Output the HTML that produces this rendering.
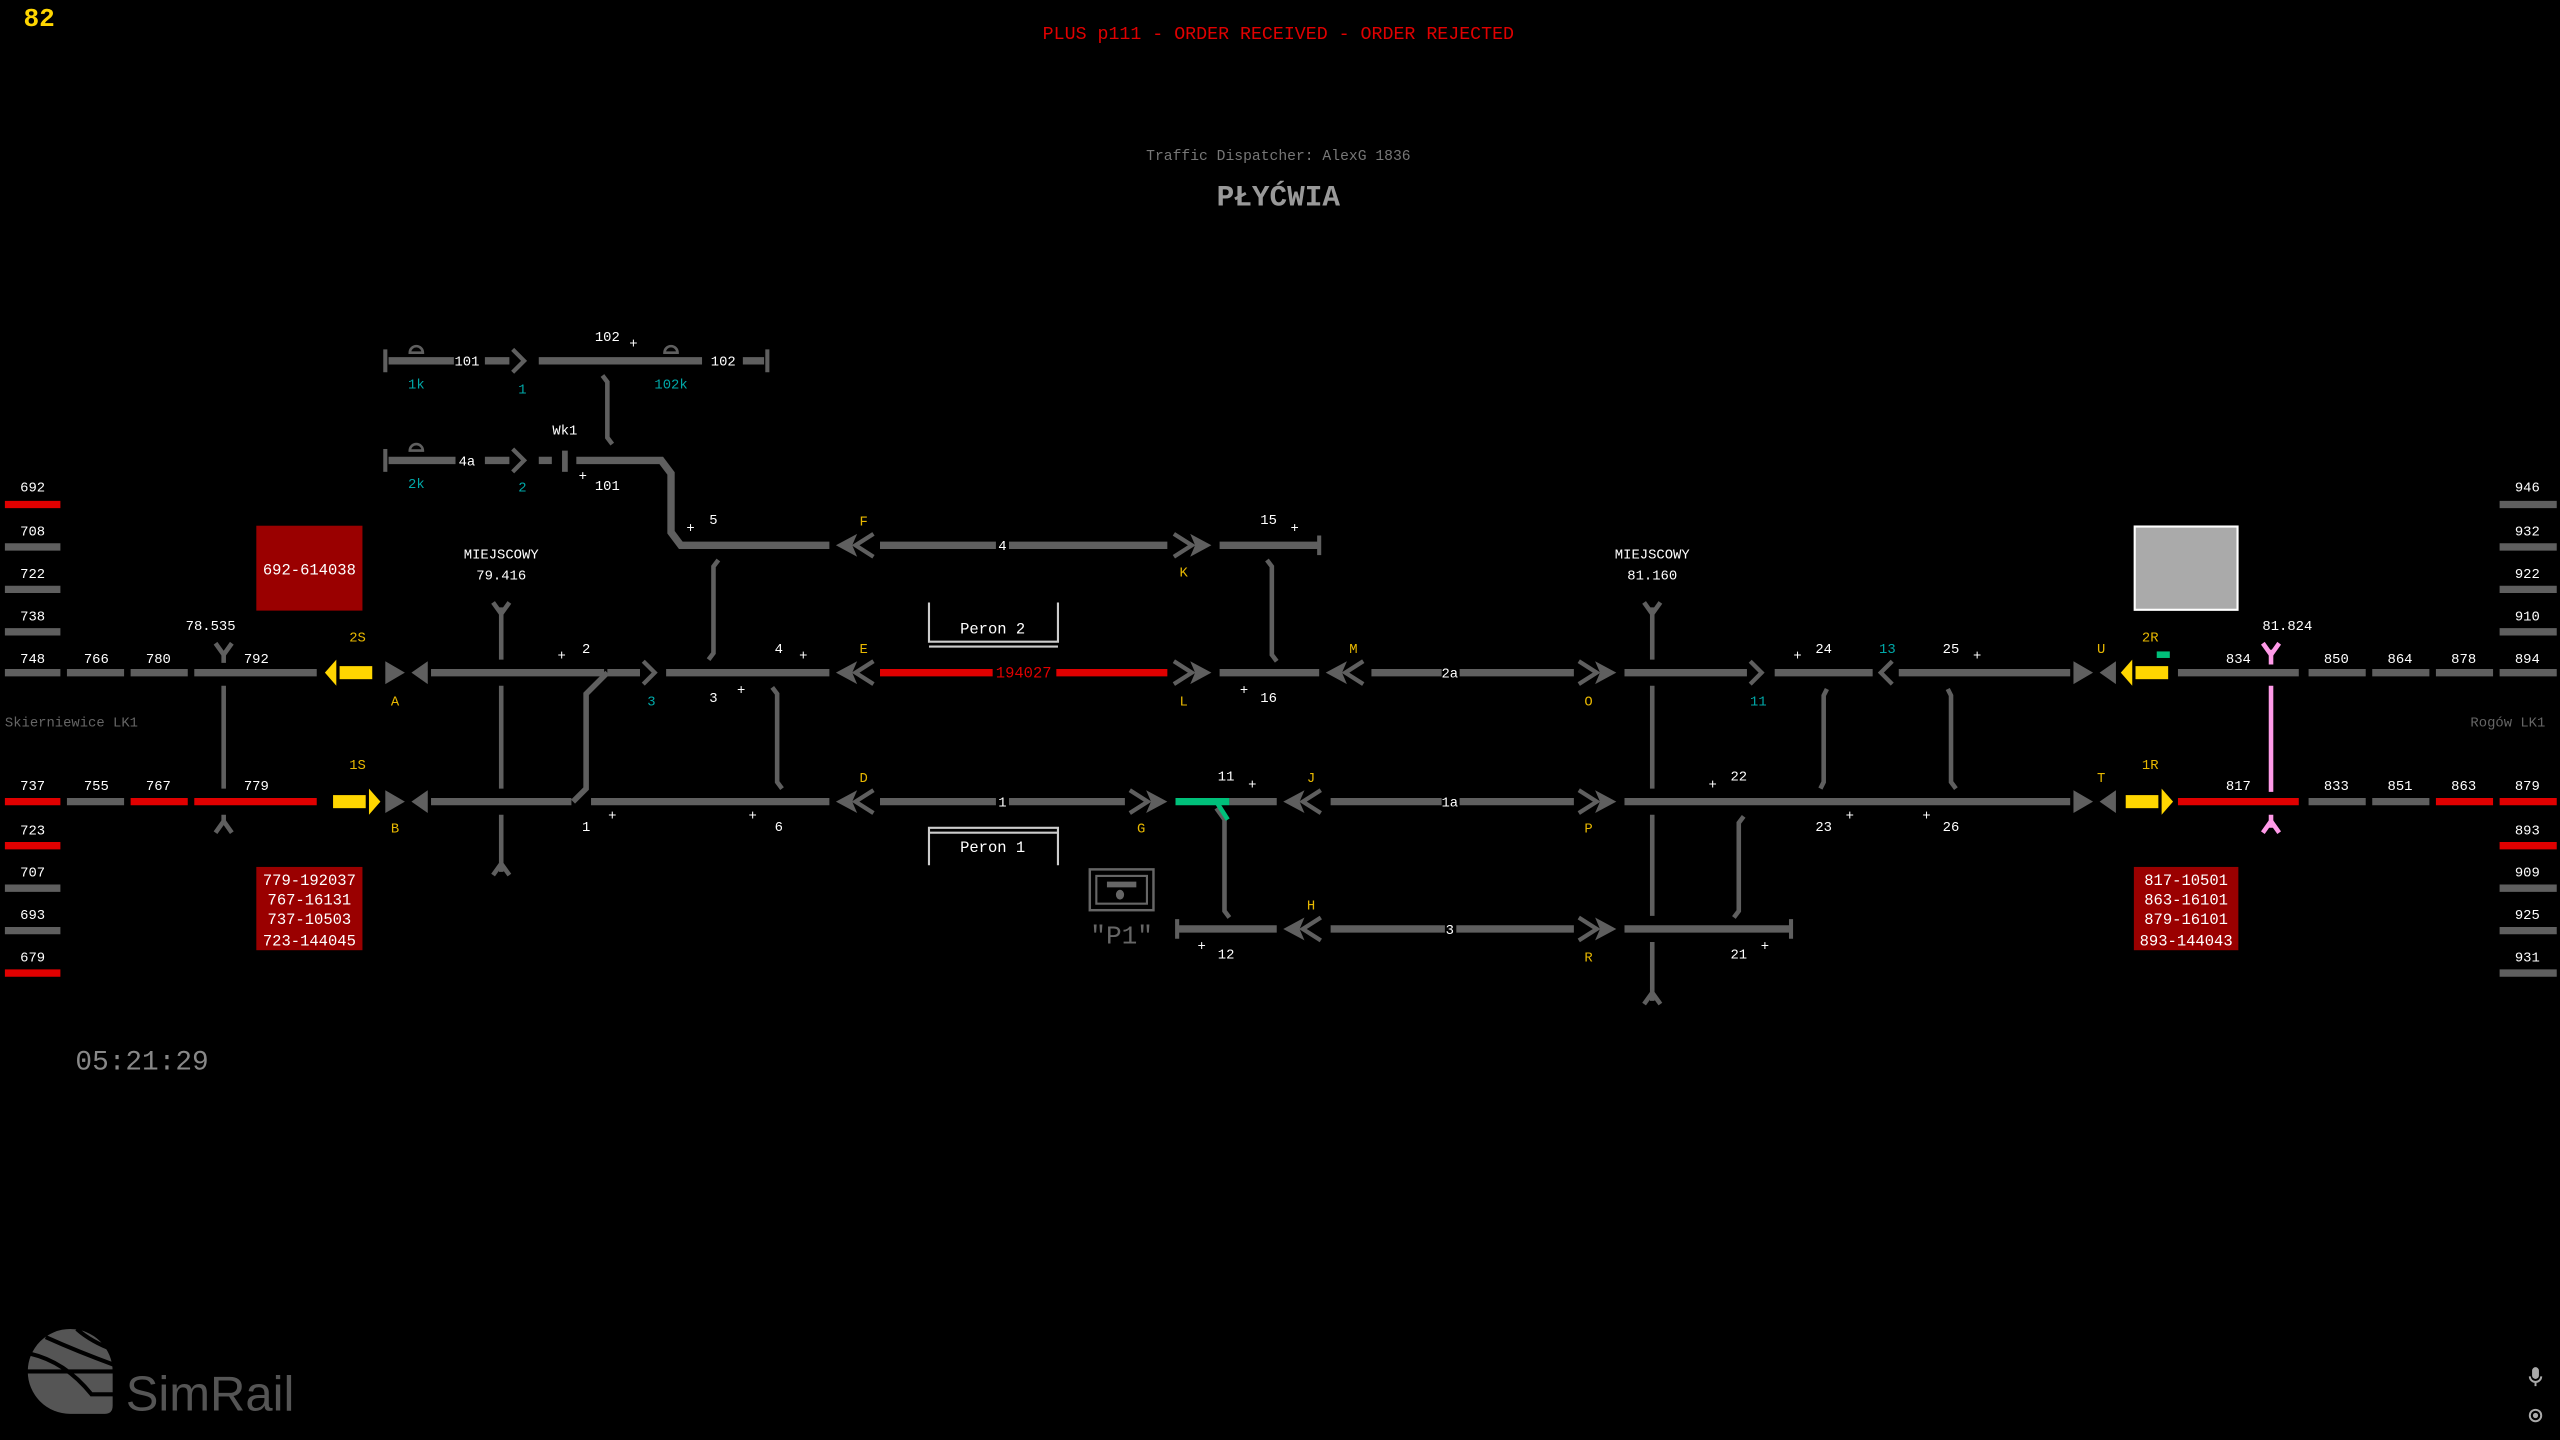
<!DOCTYPE html>
<html><head><meta charset="utf-8"><style>
html,body{margin:0;padding:0;background:#000;}
svg{display:block}
text{font-family:"Liberation Mono","DejaVu Sans Mono",monospace;}
text.sans{font-family:"Liberation Sans",sans-serif;}
</style></head><body>
<svg width="2560" height="1440" viewBox="0 0 1568 882" xmlns="http://www.w3.org/2000/svg">
<defs>
<g id="dl"><path d="M0,0 L13,-7 L10,0 L13,7 Z" fill="#5f5f5f"/><polyline points="23,-7 12,0 23,7" fill="none" stroke="#5f5f5f" stroke-width="2.6"/></g>
<g id="dr"><use href="#dl" transform="scale(-1,1)"/></g>
<g id="tri"><path d="M0,-7 L12,0 L0,7Z M26,-7 L16,0 L26,7Z" fill="#5f5f5f"/></g>
<polyline id="chr" points="0,-7 7,0 0,7" fill="none" stroke="#5f5f5f" stroke-width="2.6"/>
<polyline id="chl" points="7,-7 0,0 7,7" fill="none" stroke="#5f5f5f" stroke-width="2.6"/>
<g id="yl"><path d="M0,0 L7,-8 L7,8Z" fill="#ffd600"/><rect x="9" y="-4" width="20" height="8" fill="#ffd600"/></g>
<g id="yr"><use href="#yl" transform="scale(-1,1)"/></g>
</defs>

<!-- header -->
<text x="24" y="16" fill="#ffd600" font-size="16" font-weight="bold" text-anchor="middle">82</text>
<text x="783" y="24" fill="#e00000" font-size="11.2" text-anchor="middle">PLUS p111 - ORDER RECEIVED - ORDER REJECTED</text>
<text x="783" y="98" fill="#777" font-size="9" text-anchor="middle">Traffic Dispatcher: AlexG 1836</text>
<text x="783" y="126" fill="#999" font-size="18" font-weight="bold" text-anchor="middle">PŁYĆWIA</text>

<g stroke="#5f5f5f" stroke-width="4.5" fill="none">
<line x1="3" y1="309" x2="37" y2="309" stroke="#e00000"/>
<line x1="3" y1="335" x2="37" y2="335"/>
<line x1="3" y1="361" x2="37" y2="361"/>
<line x1="3" y1="387" x2="37" y2="387"/>
<line x1="3" y1="518" x2="37" y2="518" stroke="#e00000"/>
<line x1="3" y1="544" x2="37" y2="544"/>
<line x1="3" y1="570" x2="37" y2="570"/>
<line x1="3" y1="596" x2="37" y2="596" stroke="#e00000"/>
<line x1="1531" y1="309" x2="1566" y2="309"/>
<line x1="1531" y1="335" x2="1566" y2="335"/>
<line x1="1531" y1="361" x2="1566" y2="361"/>
<line x1="1531" y1="387" x2="1566" y2="387"/>
<line x1="1531" y1="518" x2="1566" y2="518" stroke="#e00000"/>
<line x1="1531" y1="544" x2="1566" y2="544"/>
<line x1="1531" y1="570" x2="1566" y2="570"/>
<line x1="1531" y1="596" x2="1566" y2="596"/>

<line x1="3" y1="412" x2="37" y2="412"/>
<line x1="41" y1="412" x2="76" y2="412"/>
<line x1="80" y1="412" x2="115" y2="412"/>
<line x1="119" y1="412" x2="194" y2="412"/>
<line x1="264" y1="412" x2="370" y2="412"/>
<line x1="408" y1="412" x2="508" y2="412"/>
<line x1="539" y1="412" x2="608" y2="412" stroke="#e00000"/>
<line x1="647" y1="412" x2="715" y2="412" stroke="#e00000"/>
<line x1="747" y1="412" x2="808" y2="412"/>
<line x1="840" y1="412" x2="883" y2="412"/>
<line x1="894" y1="412" x2="964" y2="412"/>
<line x1="995" y1="412" x2="1070" y2="412"/>
<line x1="1087" y1="412" x2="1147" y2="412"/>
<line x1="1163" y1="412" x2="1268" y2="412"/>
<line x1="1334" y1="412" x2="1408" y2="412"/>
<line x1="1414" y1="412" x2="1449" y2="412"/>
<line x1="1453" y1="412" x2="1488" y2="412"/>
<line x1="1492" y1="412" x2="1527" y2="412"/>
<line x1="1531" y1="412" x2="1566" y2="412"/>

<line x1="3" y1="491" x2="37" y2="491" stroke="#e00000"/>
<line x1="41" y1="491" x2="76" y2="491"/>
<line x1="80" y1="491" x2="115" y2="491" stroke="#e00000"/>
<line x1="119" y1="491" x2="194" y2="491" stroke="#e00000"/>
<line x1="264" y1="491" x2="350" y2="491"/>
<line x1="362" y1="491" x2="508" y2="491"/>
<line x1="539" y1="491" x2="610" y2="491"/>
<line x1="618" y1="491" x2="689" y2="491"/>
<line x1="720" y1="491" x2="753" y2="491" stroke="#00c07a"/>
<line x1="753" y1="491" x2="782" y2="491"/>
<line x1="815" y1="491" x2="883" y2="491"/>
<line x1="894" y1="491" x2="964" y2="491"/>
<line x1="995" y1="491" x2="1268" y2="491"/>
<line x1="1334" y1="491" x2="1408" y2="491" stroke="#e00000"/>
<line x1="1414" y1="491" x2="1449" y2="491"/>
<line x1="1453" y1="491" x2="1488" y2="491"/>
<line x1="1492" y1="491" x2="1527" y2="491" stroke="#e00000"/>
<line x1="1531" y1="491" x2="1566" y2="491" stroke="#e00000"/>

<path d="M372,412 L362,422 L359,425 L359,483 L351,491" stroke-width="3.4"/>
<line x1="372" y1="412" x2="392" y2="412"/>

<line x1="720" y1="569" x2="782" y2="569"/>
<line x1="815" y1="569" x2="885" y2="569"/>
<line x1="892" y1="569" x2="964" y2="569"/>
<line x1="995" y1="569" x2="1096" y2="569"/>
<path d="M721,563 L721,575 M1097,563 L1097,575" stroke-width="2.5"/>

<path d="M353,282 L405,282 L411,290 L411,326 L417,334 L508,334" stroke-width="4.5"/>
<line x1="539" y1="334" x2="610" y2="334"/>
<line x1="618" y1="334" x2="715" y2="334"/>
<line x1="747" y1="334" x2="808" y2="334"/>
<path d="M808,328 L808,340" stroke-width="2.5"/>

<line x1="238" y1="221" x2="278" y2="221"/>
<line x1="297" y1="221" x2="312" y2="221"/>
<line x1="330" y1="221" x2="430" y2="221"/>
<line x1="455" y1="221" x2="468" y2="221"/>
<path d="M236,214 L236,228 M470,214 L470,228" stroke-width="2.5"/>
<line x1="238" y1="282" x2="279" y2="282"/>
<line x1="297" y1="282" x2="312" y2="282"/>
<line x1="330" y1="282" x2="338" y2="282"/>
<path d="M236,275 L236,289" stroke-width="2.5"/>
<line x1="346" y1="276" x2="346" y2="289" stroke-width="3.5"/>
</g>

<g stroke="#5f5f5f" stroke-width="2.8" fill="none">
<path d="M369,230 L372,234 L372,268 L375,272"/>
<path d="M440,343 L437,347 L437,400 L434,404"/>
<path d="M473,421 L476,425 L476,479 L479,483"/>
<path d="M776,343 L779,347 L779,401 L782,405"/>
<path d="M745,495 L750,502 L750,558 L753,562"/>
<path d="M1119,422 L1117,426 L1117,479 L1115,483"/>
<path d="M1193,422 L1195,426 L1195,479 L1198,483"/>
<path d="M1068,500 L1065,504 L1065,558 L1062,562"/>
<path d="M307,372 L307,404 M307,420 L307,483 M307,499 L307,534"/>
<path d="M302,369 L307,376 L312,369 M302,536 L307,529 L312,536"/>
<path d="M1012,372 L1012,404 M1012,420 L1012,483 M1012,499 L1012,561 M1012,577 L1012,613"/>
<path d="M1007,369 L1012,376 L1017,369 M1007,615 L1012,608 L1017,615"/>
<path d="M137,400 L137,406 M137,420 L137,483 M137,499 L137,505"/>
<path d="M132,394 L137,401 L142,394 M132,510 L137,503 L142,510"/>
</g>
<line x1="745" y1="491" x2="752" y2="502" stroke="#00c07a" stroke-width="2.8"/>
<g stroke="#ff9ae8" stroke-width="2.8" fill="none">
<path d="M1391,398 L1391,407 M1391,420 L1391,485 M1391,499 L1391,507"/>
<path d="M1386,394 L1391,401 L1396,394 M1386,510 L1391,503 L1396,510"/>
</g>
<rect x="1321" y="399" width="8" height="4" fill="#00c07a"/>

<use href="#tri" x="236" y="412"/><use href="#tri" x="236" y="491"/>
<use href="#tri" x="1270" y="412"/><use href="#tri" x="1270" y="491"/>
<use href="#yl" x="199" y="412"/>
<use href="#yr" x="233" y="491"/>
<use href="#yl" x="1299" y="412"/>
<use href="#yr" x="1331" y="491"/>
<use href="#chr" x="394" y="412"/>
<use href="#chr" x="314" y="221"/>
<use href="#chr" x="314" y="282"/>
<use href="#chr" x="1072" y="412"/>
<use href="#chl" x="1152" y="412"/>
<use href="#dl" x="512" y="334"/><use href="#dl" x="512" y="412"/><use href="#dl" x="512" y="491"/>
<use href="#dr" x="742" y="334"/><use href="#dr" x="742" y="412"/><use href="#dr" x="715" y="491"/>
<use href="#dl" x="812" y="412"/><use href="#dl" x="786" y="491"/><use href="#dl" x="786" y="569"/>
<use href="#dr" x="990" y="412"/><use href="#dr" x="990" y="491"/><use href="#dr" x="990" y="569"/>
<g fill="none" stroke="#5f5f5f" stroke-width="1.6">
<path d="M251,216 A4,4 0 0 1 259,216 Z"/><path d="M407,216 A4,4 0 0 1 415,216 Z"/><path d="M251,276 A4,4 0 0 1 259,276 Z"/>
</g>

<g fill="none" stroke="#ccc" stroke-width="1.3">
<path d="M569,369 L569,393 L648,393 L648,369"/><line x1="569" y1="396" x2="648" y2="396"/>
<path d="M569,530 L569,507 L648,507 L648,530"/><line x1="569" y1="510" x2="648" y2="510"/>
</g>
<text x="608" y="388" fill="#fff" font-size="9.5" text-anchor="middle">Peron 2</text>
<text x="608" y="522" fill="#fff" font-size="9.5" text-anchor="middle">Peron 1</text>
<text x="627" y="415" fill="#e00000" font-size="9.5" text-anchor="middle">194027</text>
<rect x="667.5" y="532.5" width="39" height="25" fill="none" stroke="#666" stroke-width="1.5"/>
<rect x="671.5" y="536.5" width="31" height="17" fill="none" stroke="#666" stroke-width="1.3"/>
<rect x="678" y="540" width="18" height="3.5" fill="#666"/>
<ellipse cx="686" cy="548" rx="2.5" ry="3" fill="#666"/>
<text x="687" y="578" fill="#666" font-size="16" text-anchor="middle">"P1"</text>

<rect x="157" y="322" width="65" height="52" fill="#9a0000"/>
<text x="189.5" y="352" fill="#fff" font-size="9.5" text-anchor="middle">692-614038</text>
<rect x="157" y="531" width="65" height="51" fill="#9a0000"/>
<g fill="#fff" font-size="9.5" text-anchor="middle"><text x="189.5" y="542">779-192037</text><text x="189.5" y="554">767-16131</text><text x="189.5" y="566">737-10503</text><text x="189.5" y="579">723-144045</text></g>
<rect x="1307" y="531" width="64" height="51" fill="#9a0000"/>
<g fill="#fff" font-size="9.5" text-anchor="middle"><text x="1339" y="542">817-10501</text><text x="1339" y="554">863-16101</text><text x="1339" y="566">879-16101</text><text x="1339" y="579">893-144043</text></g>
<rect x="1307.5" y="322.5" width="63" height="51" fill="#aaa" stroke="#fff" stroke-width="1.3"/>

<g fill="#fff" font-size="8.5" text-anchor="middle">
<text x="20" y="301">692</text><text x="20" y="328">708</text><text x="20" y="354">722</text><text x="20" y="380">738</text>
<text x="20" y="406">748</text><text x="59" y="406">766</text><text x="97" y="406">780</text><text x="157" y="406">792</text>
<text x="20" y="484">737</text><text x="59" y="484">755</text><text x="97" y="484">767</text><text x="157" y="484">779</text>
<text x="20" y="511">723</text><text x="20" y="537">707</text><text x="20" y="563">693</text><text x="20" y="589">679</text>
<text x="1548" y="301">946</text><text x="1548" y="328">932</text><text x="1548" y="354">922</text><text x="1548" y="380">910</text>
<text x="1371" y="406">834</text><text x="1431" y="406">850</text><text x="1470" y="406">864</text><text x="1509" y="406">878</text><text x="1548" y="406">894</text>
<text x="1371" y="484">817</text><text x="1431" y="484">833</text><text x="1470" y="484">851</text><text x="1509" y="484">863</text><text x="1548" y="484">879</text>
<text x="1548" y="511">893</text><text x="1548" y="537">909</text><text x="1548" y="563">925</text><text x="1548" y="589">931</text>
<text x="129" y="386">78.535</text><text x="1401" y="386">81.824</text>
<text x="307" y="342">MIEJSCOWY</text><text x="307" y="355">79.416</text>
<text x="1012" y="342">MIEJSCOWY</text><text x="1012" y="355">81.160</text>
<text x="286" y="224">101</text><text x="372" y="209">102</text><text x="443" y="224">102</text>
<text x="286" y="285">4a</text><text x="346" y="266">Wk1</text><text x="372" y="300">101</text>
<text x="437" y="321">5</text><text x="614" y="337">4</text><text x="777" y="321">15</text>
<text x="359" y="400">2</text><text x="437" y="430">3</text><text x="477" y="400">4</text>
<text x="359" y="509">1</text><text x="477" y="509">6</text><text x="614" y="494">1</text>
<text x="777" y="430">16</text><text x="888" y="415">2a</text><text x="888" y="494">1a</text><text x="888" y="572">3</text>
<text x="751" y="478">11</text><text x="751" y="587">12</text>
<text x="1117" y="400">24</text><text x="1195" y="400">25</text><text x="1065" y="478">22</text>
<text x="1117" y="509">23</text><text x="1195" y="509">26</text><text x="1065" y="587">21</text>
<text x="388" y="213">+</text><text x="357" y="294">+</text><text x="423" y="326">+</text><text x="793" y="326">+</text>
<text x="344" y="404">+</text><text x="454" y="425">+</text><text x="492" y="404">+</text>
<text x="375" y="502">+</text><text x="461" y="502">+</text>
<text x="762" y="425">+</text><text x="767" y="483">+</text><text x="736" y="582">+</text>
<text x="1101" y="404">+</text><text x="1211" y="404">+</text><text x="1049" y="483">+</text>
<text x="1133" y="502">+</text><text x="1180" y="502">+</text><text x="1081" y="582">+</text>
</g>
<g fill="#e8b800" font-size="8.5" text-anchor="middle">
<text x="219" y="393">2S</text><text x="219" y="471">1S</text>
<text x="242" y="432">A</text><text x="242" y="510">B</text>
<text x="529" y="322">F</text><text x="529" y="400">E</text><text x="529" y="479">D</text>
<text x="725" y="353">K</text><text x="725" y="432">L</text><text x="699" y="510">G</text>
<text x="829" y="400">M</text><text x="803" y="479">J</text><text x="803" y="557">H</text>
<text x="973" y="432">O</text><text x="973" y="510">P</text><text x="973" y="589">R</text>
<text x="1287" y="400">U</text><text x="1287" y="479">T</text>
<text x="1317" y="393">2R</text><text x="1317" y="471">1R</text>
</g>
<g fill="#00a8a8" font-size="8.5" text-anchor="middle">
<text x="255" y="238">1k</text><text x="320" y="241">1</text><text x="411" y="238">102k</text>
<text x="255" y="299">2k</text><text x="320" y="301">2</text><text x="399" y="432">3</text>
<text x="1077" y="432">11</text><text x="1156" y="400">13</text>
</g>
<text x="3" y="445" fill="#666" font-size="8.5">Skierniewice  LK1</text>
<text x="1559" y="445" fill="#666" font-size="8.5" text-anchor="end">Rogów LK1</text>
<text x="87" y="655" fill="#888" font-size="17" text-anchor="middle">05:21:29</text>

<!-- SimRail logo -->
<path d="M43,814 A26,26 0 0 1 69,840 L69,861 Q69,866 64,866 L43,866 A26,26 0 0 1 43,814Z" fill="#555"/>
<g stroke="#000" stroke-width="2.5" fill="none">
<path d="M16,840 L70,840 M18,829 Q40,834 56,854 L70,854 M28,819 Q48,828 70,836 M47,814 Q56,822 70,827"/>
</g>
<text class="sans" x="77" y="864" fill="#555" font-size="30">SimRail</text>
<g fill="none" stroke="#aaa" stroke-width="1.2">
<rect x="1551.5" y="838" width="3" height="6" rx="1.5" fill="#aaa"/><path d="M1549.5,843 A3.5,3.5 0 0 0 1556.5,843 M1553,847 L1553,849"/>
<circle cx="1553" cy="867" r="3.5"/><circle cx="1553" cy="867" r="1" fill="#aaa"/>
</g>
</svg>
</body></html>
